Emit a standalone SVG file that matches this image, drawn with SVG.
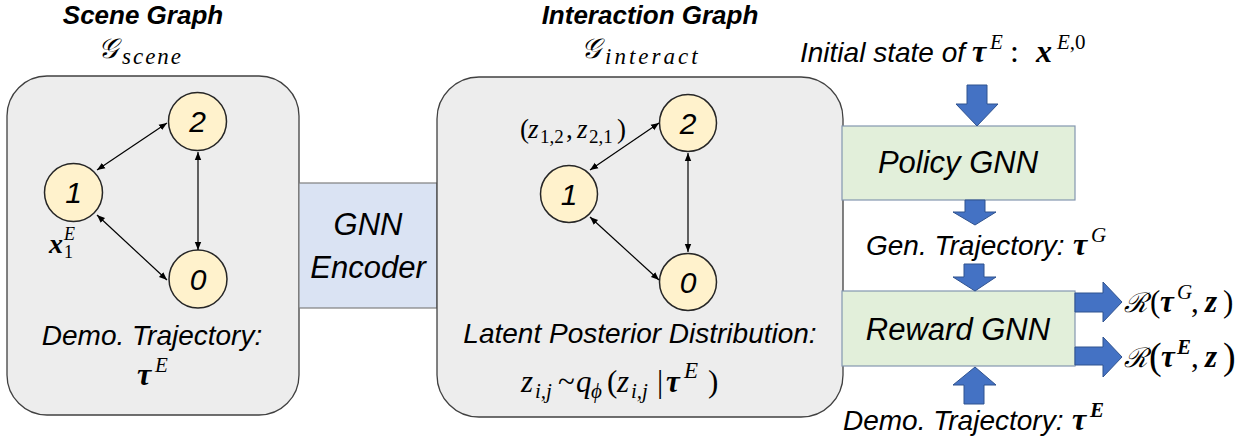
<svg xmlns="http://www.w3.org/2000/svg" width="1254" height="443" viewBox="0 0 1254 443">
<style>
.bg{fill:#ffffff}
.box{fill:#ededed;stroke:#404040;stroke-width:1.3}
.enc{fill:#dae3f3;stroke:#7f7f7f;stroke-width:1.2}
.gnn{fill:#e2efda;stroke:#8497b0;stroke-width:1.2}
.nd{fill:#fff2cc;stroke:#262626;stroke-width:1.5}
.t{font-family:"Liberation Sans",Arial,sans-serif;font-style:italic;fill:#000}
.tt{font-family:"Liberation Sans",Arial,sans-serif;font-style:italic;font-weight:bold;fill:#000;font-size:26px;text-anchor:middle}
.m{font-family:"Liberation Serif","DejaVu Serif",serif;font-style:italic;fill:#000}
.bt{font-weight:bold}
.up{font-style:normal}
.dig{font-family:"Liberation Sans",Arial,sans-serif;font-style:italic;font-size:30px;text-anchor:middle;fill:#000}
.e{stroke:#000;stroke-width:1.2;fill:none;marker-start:url(#ah);marker-end:url(#ah)}
.ba{fill:#4472c4;stroke:#2f528f;stroke-width:1}
</style>
<defs>
<marker id="ah" viewBox="0 0 10 10" refX="10" refY="5" markerWidth="8" markerHeight="8" orient="auto-start-reverse" markerUnits="userSpaceOnUse"><path d="M0,1 L10,5 L0,9 z" fill="#000"/></marker>
</defs>
<rect class="bg" x="0" y="0" width="1254" height="443"/>

<g id="titles">
<text class="tt" x="143" y="24">Scene Graph</text>
<text class="m" font-size="28"><tspan x="98" y="58">𝒢</tspan><tspan x="122" y="64" font-size="23" letter-spacing="2">scene</tspan></text>
<text class="tt" x="650" y="24">Interaction Graph</text>
<text class="m" font-size="28"><tspan x="581" y="58">𝒢</tspan><tspan x="605" y="64" font-size="23" letter-spacing="3">interact</tspan></text>
</g>

<g id="scene-graph">
<rect class="box" x="7" y="76" width="292" height="339" rx="40"/>
<text class="m" font-size="28"><tspan class="bt" x="49" y="253">x</tspan><tspan font-size="18" x="64" y="240">E</tspan><tspan class="up" font-size="18" x="64" y="258">1</tspan></text>
<text class="t" x="152" y="345" font-size="28" text-anchor="middle">Demo. Trajectory:</text>
<text class="m" font-size="32"><tspan class="bt" x="137" y="385">τ</tspan><tspan font-size="21" x="155" y="372">E</tspan></text>
</g>
<g id="s-node-2"><circle class="nd" cx="197.5" cy="121.5" r="29"/><text class="dig" x="197.5" y="132">2</text></g>
<g id="s-node-1"><circle class="nd" cx="73.5" cy="192.5" r="29"/><text class="dig" x="73.5" y="203">1</text></g>
<g id="s-node-0"><circle class="nd" cx="198" cy="279" r="29"/><text class="dig" x="198" y="289.5">0</text></g>

<g id="gnn-encoder">
<rect class="enc" x="299" y="183" width="138" height="125"/>
<text class="t" x="368" y="235" font-size="31" text-anchor="middle">GNN</text>
<text class="t" x="368" y="278" font-size="31" text-anchor="middle">Encoder</text>
</g>

<g id="interaction-graph">
<rect class="box" x="437" y="77" width="406" height="340" rx="42"/>
<text class="m" font-size="27"><tspan class="up" x="520" y="138">(</tspan><tspan x="528" y="138">z</tspan><tspan class="up" font-size="19" x="540" y="143">1,2</tspan><tspan class="up" x="566" y="138">,</tspan><tspan x="577" y="138">z</tspan><tspan class="up" font-size="19" x="589" y="143">2,1</tspan><tspan class="up" x="617" y="138">)</tspan></text>
<text class="t" x="640" y="343" font-size="28" text-anchor="middle">Latent Posterior Distribution:</text>
<text class="m" font-size="31"><tspan x="521" y="392">z</tspan><tspan font-size="21" x="535" y="398">i,j</tspan><tspan class="up" x="558" y="392">~</tspan><tspan x="576" y="392">q</tspan><tspan font-size="21" x="591" y="398">ϕ</tspan><tspan class="up" x="607" y="392">(</tspan><tspan x="617" y="392">z</tspan><tspan font-size="21" x="631" y="398">i,j</tspan><tspan class="up" x="657" y="392">|</tspan><tspan class="bt" x="666" y="392">τ</tspan><tspan font-size="23" x="684" y="378">E</tspan><tspan class="up" x="708" y="392">)</tspan></text>
</g>
<g id="i-node-2"><circle class="nd" cx="688" cy="123" r="28.5"/><text class="dig" x="688" y="133.5">2</text></g>
<g id="i-node-1"><circle class="nd" cx="569" cy="194" r="28.5"/><text class="dig" x="569" y="204.5">1</text></g>
<g id="i-node-0"><circle class="nd" cx="688" cy="282" r="28.5"/><text class="dig" x="688" y="292.5">0</text></g>

<g id="policy-gnn">
<rect class="gnn" x="842" y="126" width="233" height="74"/>
<text class="t" x="958" y="173" font-size="31" text-anchor="middle">Policy GNN</text>
</g>
<g id="reward-gnn">
<rect class="gnn" x="842" y="291" width="233" height="75"/>
<text class="t" x="958" y="340" font-size="31" text-anchor="middle">Reward GNN</text>
</g>

<g id="labels">
<text class="t" x="800" y="62" font-size="28">Initial state of</text>
<text class="m" font-size="32"><tspan class="bt" x="972" y="62">τ</tspan><tspan font-size="21" x="990" y="49">E</tspan><tspan class="up" x="1010" y="62">:</tspan><tspan class="bt" x="1036" y="62">x</tspan><tspan class="up" font-size="21" x="1057" y="49"><tspan font-style="italic">E</tspan>,0</tspan></text>
<text class="t" x="866" y="255" font-size="28">Gen. Trajectory:</text>
<text class="m" font-size="32"><tspan class="bt" x="1073" y="255">τ</tspan><tspan font-size="21" x="1091" y="242">G</tspan></text>
<text class="t" x="843" y="430" font-size="28">Demo. Trajectory:</text>
<text class="m" font-size="32"><tspan class="bt" x="1072" y="430">τ</tspan><tspan class="bt" font-size="21" x="1090" y="417">E</tspan></text>
<text class="m" font-size="27"><tspan x="1124" y="312">ℛ</tspan><tspan class="up" font-size="31" x="1150" y="312">(</tspan><tspan class="bt" font-size="31" x="1160" y="312">τ</tspan><tspan font-size="21" x="1177" y="299">G</tspan><tspan class="up" font-size="31" x="1191" y="312">,</tspan><tspan class="bt" font-size="31" x="1205" y="312">z</tspan><tspan class="up" font-size="31" x="1223" y="312">)</tspan></text>
<text class="m" font-size="27"><tspan x="1124" y="367">ℛ</tspan><tspan class="up" font-size="38" x="1149" y="369">(</tspan><tspan class="bt" font-size="31" x="1161" y="367">τ</tspan><tspan class="bt" font-size="21" x="1177" y="354">E</tspan><tspan class="up" font-size="31" x="1191" y="367">,</tspan><tspan class="bt" font-size="31" x="1205" y="367">z</tspan><tspan class="up" font-size="38" x="1223" y="369">)</tspan></text>
</g>

<g id="connectors">
<line class="e" x1="97" y1="170" x2="167" y2="123"/>
<line class="e" x1="97" y1="215" x2="167" y2="280"/>
<line class="e" x1="198" y1="152" x2="198" y2="250"/>
<line class="e" x1="590" y1="170" x2="659" y2="123"/>
<line class="e" x1="590" y1="217" x2="659" y2="280"/>
<line class="e" x1="688" y1="153" x2="688" y2="252"/>
<polygon class="ba" points="967,85 987,85 987,104 998,104 977,126 956,104 967,104"/>
<polygon class="ba" points="965,200 985,200 985,212 996,212 975,225 953,212 965,212"/>
<polygon class="ba" points="964,264 984,264 984,277 996,277 975,291 953,277 964,277"/>
<polygon class="ba" points="964,404 984,404 984,385 996,385 975,367 953,385 964,385"/>
<polygon class="ba" points="1075,293 1103,293 1103,282 1122,302 1103,322 1103,312 1075,312"/>
<polygon class="ba" points="1075,347 1103,347 1103,337 1122,357 1103,377 1103,365 1075,365"/>
</g>
</svg>
